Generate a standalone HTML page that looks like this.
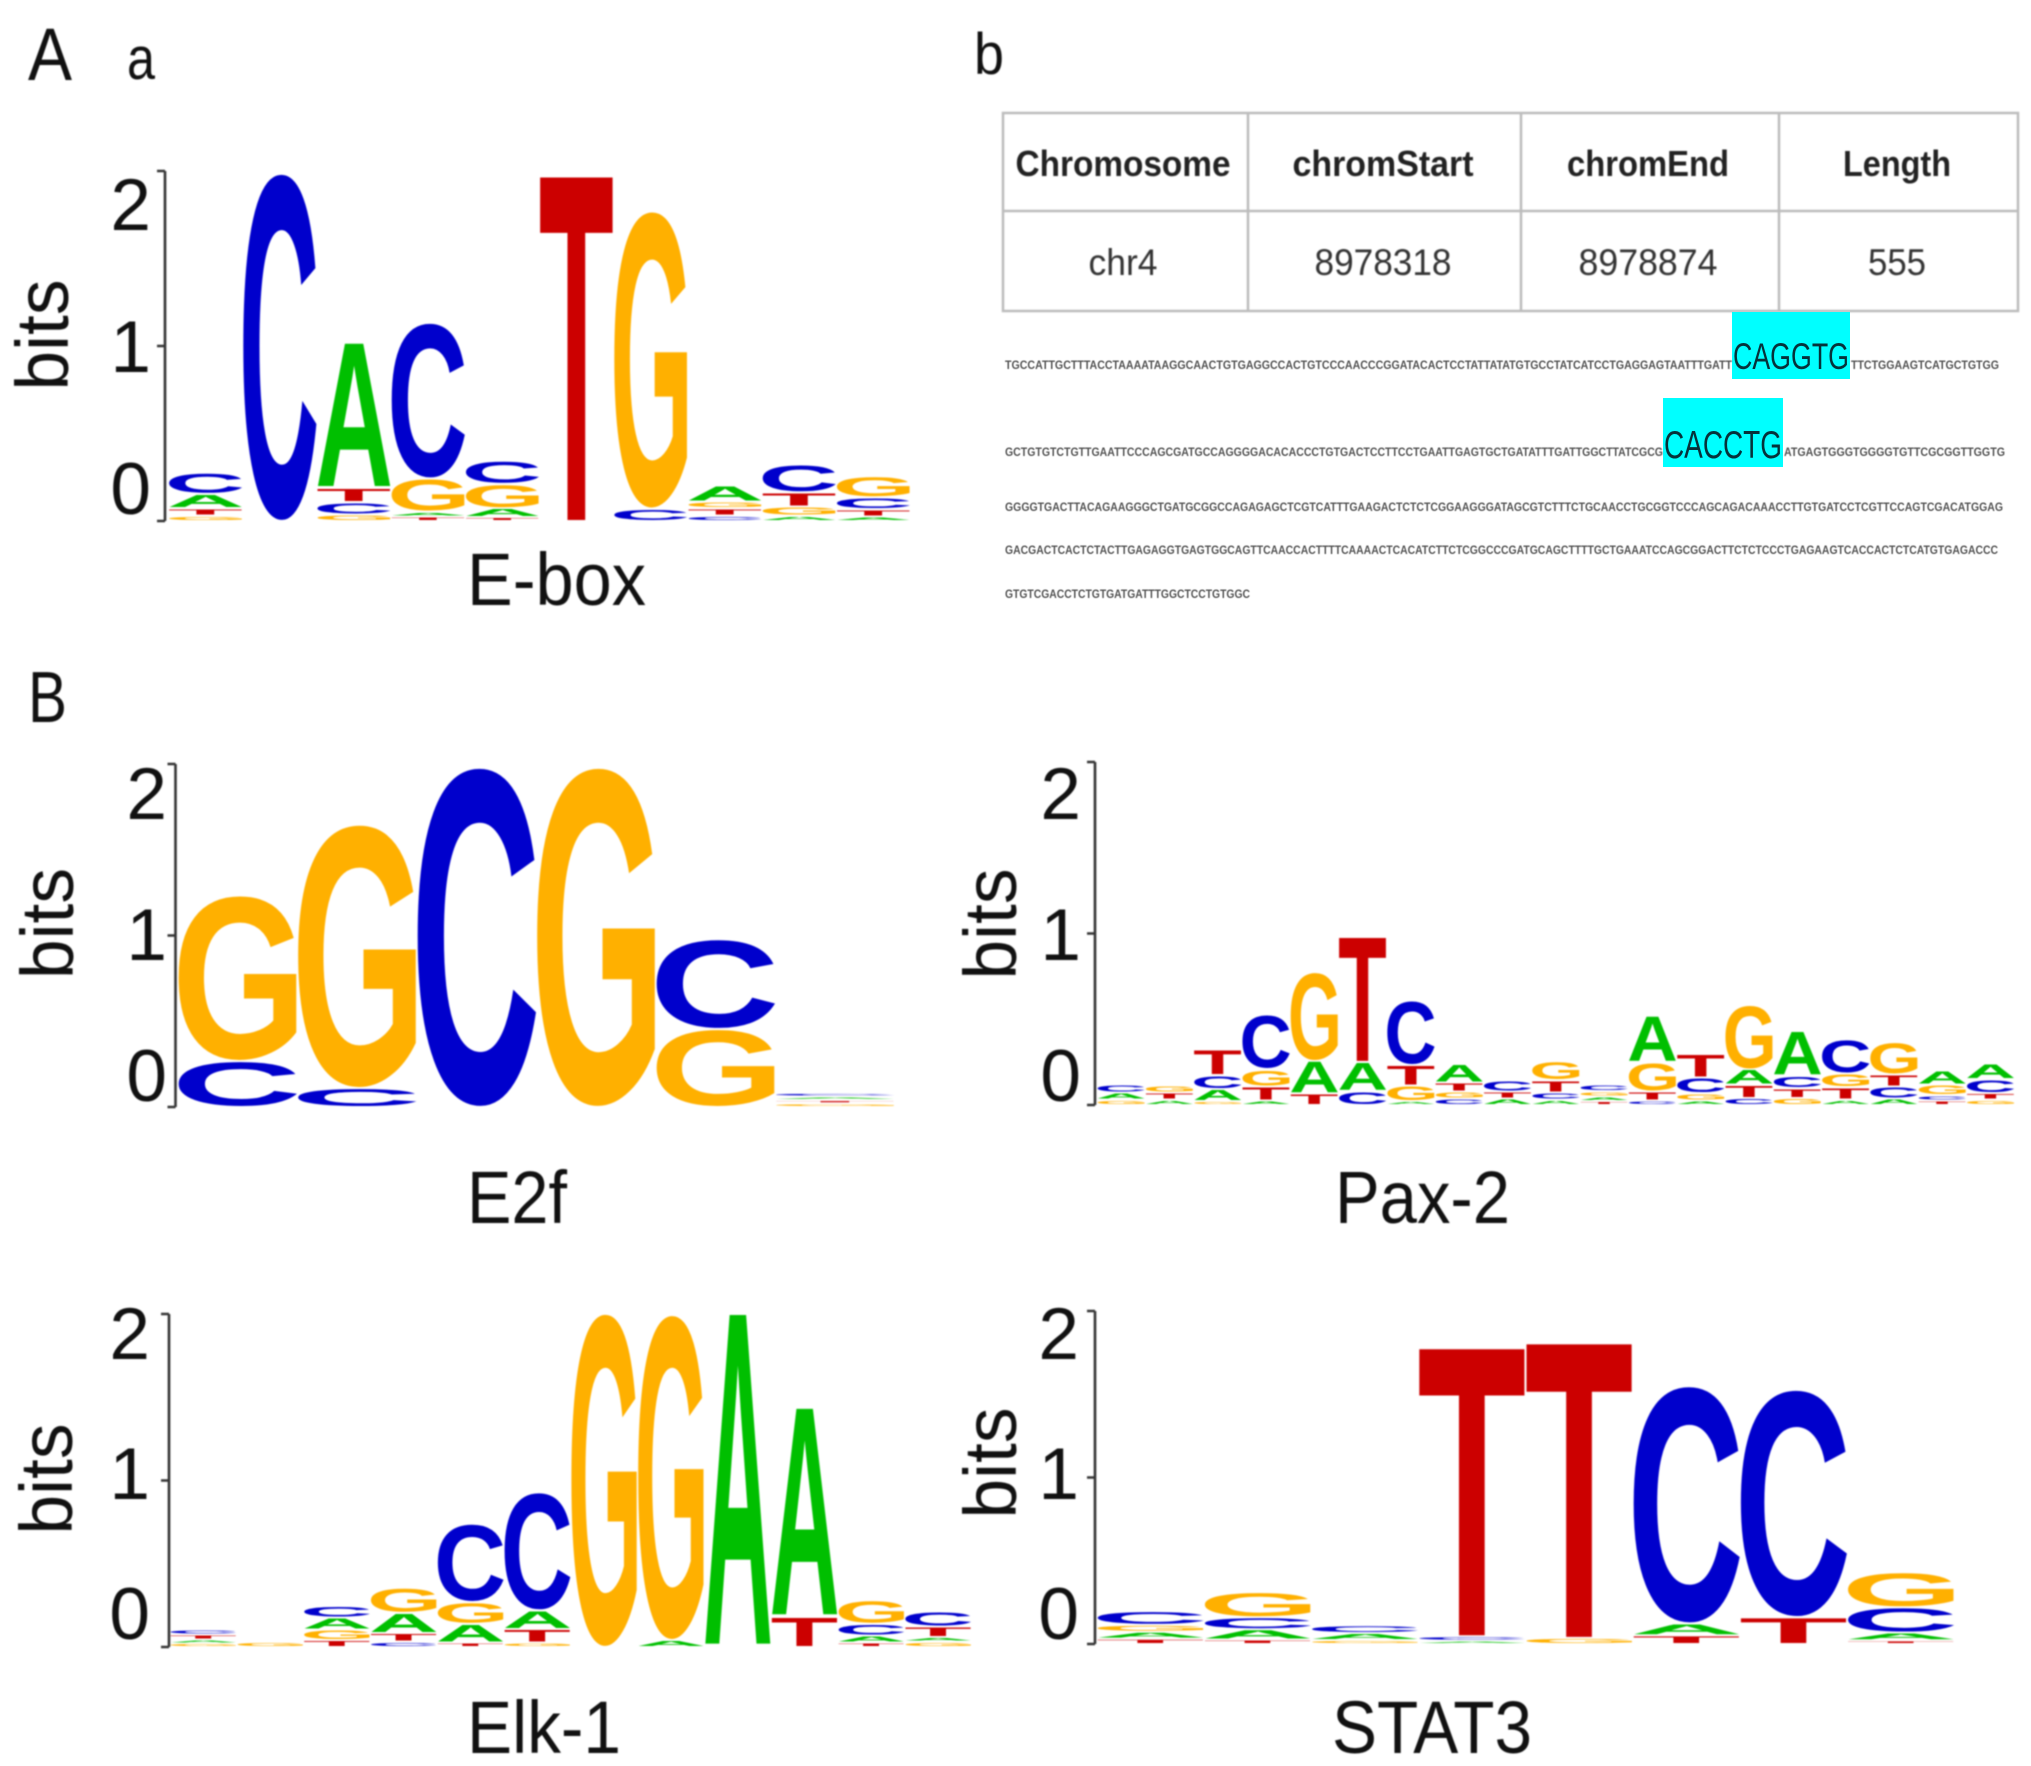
<!DOCTYPE html>
<html lang="en">
<head>
<meta charset="utf-8">
<title>Sequence logos</title>
<style>
html,body{margin:0;padding:0;background:#fff;}
svg{display:block;}
text{font-family:"Liberation Sans",sans-serif;fill:#111;}
.soft{filter:blur(.7px);}
.seq{font-size:12px;font-weight:bold;fill:#555;filter:blur(.5px);}
.motif{fill:#06323a;}
.th{font-size:36px;font-weight:bold;text-anchor:middle;fill:#222;}
.td{font-size:37px;text-anchor:middle;fill:#333;}
.lab{font-size:74px;}
.tick{font-size:73px;text-anchor:end;}
</style>
</head>
<body>
<svg id="fig" xmlns="http://www.w3.org/2000/svg" width="2031" height="1766" viewBox="0 0 2031 1766">
<rect width="2031" height="1766" fill="#fff"/>

<g id="labels" class="soft">
<text x="28" y="80" font-size="74" textLength="44" lengthAdjust="spacingAndGlyphs">A</text>
<text x="127" y="79" font-size="60" textLength="28" lengthAdjust="spacingAndGlyphs">a</text>
<text x="974" y="74" font-size="58" textLength="30" lengthAdjust="spacingAndGlyphs">b</text>
<text x="28" y="722" font-size="72" textLength="39" lengthAdjust="spacingAndGlyphs">B</text>
<text class="lab" x="467" y="605" textLength="179" lengthAdjust="spacingAndGlyphs">E-box</text>
<text class="lab" x="467" y="1223" textLength="100" lengthAdjust="spacingAndGlyphs">E2f</text>
<text class="lab" x="1335" y="1223" textLength="175" lengthAdjust="spacingAndGlyphs">Pax-2</text>
<text class="lab" x="467" y="1753" textLength="154" lengthAdjust="spacingAndGlyphs">Elk-1</text>
<text class="lab" x="1332" y="1753" textLength="200" lengthAdjust="spacingAndGlyphs">STAT3</text>
</g>

<g id="region-table" class="soft" fill="none" stroke="#bcbcbc" stroke-width="2.5">
<rect x="1003" y="113" width="1015" height="198"/>
<line x1="1003" y1="211" x2="2018" y2="211"/>
<line x1="1248" y1="113" x2="1248" y2="311"/>
<line x1="1521" y1="113" x2="1521" y2="311"/>
<line x1="1779" y1="113" x2="1779" y2="311"/>
</g>
<g class="soft">
<text class="th" x="1123" y="176" textLength="215" lengthAdjust="spacingAndGlyphs">Chromosome</text>
<text class="th" x="1383" y="176" textLength="181" lengthAdjust="spacingAndGlyphs">chromStart</text>
<text class="th" x="1648" y="176" textLength="162" lengthAdjust="spacingAndGlyphs">chromEnd</text>
<text class="th" x="1897" y="176" textLength="108" lengthAdjust="spacingAndGlyphs">Length</text>
<text class="td" x="1123" y="275" textLength="69" lengthAdjust="spacingAndGlyphs">chr4</text>
<text class="td" x="1383" y="275" textLength="137" lengthAdjust="spacingAndGlyphs">8978318</text>
<text class="td" x="1648" y="275" textLength="139" lengthAdjust="spacingAndGlyphs">8978874</text>
<text class="td" x="1897" y="275" textLength="58" lengthAdjust="spacingAndGlyphs">555</text>
</g>

<g id="sequence">
<rect x="1732" y="312" width="118" height="67" fill="#00ffff"/>
<rect x="1663" y="398" width="120" height="69" fill="#00ffff"/>
<text class="seq" x="1005" y="369" textLength="727" lengthAdjust="spacingAndGlyphs">TGCCATTGCTTTACCTAAAATAAGGCAACTGTGAGGCCACTGTCCCAACCCGGATACACTCCTATTATATGTGCCTATCATCCTGAGGAGTAATTTGATT</text>
<text class="motif" x="1733" y="369" font-size="37" textLength="116" lengthAdjust="spacingAndGlyphs">CAGGTG</text>
<text class="seq" x="1851" y="369" textLength="148" lengthAdjust="spacingAndGlyphs">TTCTGGAAGTCATGCTGTGG</text>
<text class="seq" x="1005" y="456" textLength="658" lengthAdjust="spacingAndGlyphs">GCTGTGTCTGTTGAATTCCCAGCGATGCCAGGGGACACACCCTGTGACTCCTTCCTGAATTGAGTGCTGATATTTGATTGGCTTATCGCG</text>
<text class="motif" x="1664" y="458" font-size="39" textLength="118" lengthAdjust="spacingAndGlyphs">CACCTG</text>
<text class="seq" x="1784" y="456" textLength="221" lengthAdjust="spacingAndGlyphs">ATGAGTGGGTGGGGTGTTCGCGGTTGGTG</text>
<text class="seq" x="1005" y="511" textLength="998" lengthAdjust="spacingAndGlyphs">GGGGTGACTTACAGAAGGGCTGATGCGGCCAGAGAGCTCGTCATTTGAAGACTCTCTCGGAAGGGATAGCGTCTTTCTGCAACCTGCGGTCCCAGCAGACAAACCTTGTGATCCTCGTTCCAGTCGACATGGAG</text>
<text class="seq" x="1005" y="554" textLength="993" lengthAdjust="spacingAndGlyphs">GACGACTCACTCTACTTGAGAGGTGAGTGGCAGTTCAACCACTTTTCAAAACTCACATCTTCTCGGCCCGATGCAGCTTTTGCTGAAATCCAGCGGACTTCTCTCCCTGAGAAGTCACCACTCTCATGTGAGACCC</text>
<text class="seq" x="1005" y="598" textLength="245" lengthAdjust="spacingAndGlyphs">GTGTCGACCTCTGTGATGATTTGGCTCCTGTGGC</text>
</g>

<g id="logos" class="soft"></g>
</svg>

<script>
// Logo data: each position lists its letters bottom to top as [base, bits].
const tickValues = [0, 1, 2];
const tickLabels = ['0', '1', '2'];

const eboxStacks = [
  [['G',.02],['T',.03],['A',.07],['C',.11]],
  [['C',2.0]],
  [['G',.025],['C',.06],['T',.07],['A',.83]],
  [['T',.015],['A',.015],['G',.18],['C',.89]],
  [['T',.01],['A',.04],['G',.13],['C',.12]],
  [['T',2.0]],
  [['C',.06],['G',1.71]],
  [['C',.02],['T',.03],['G',.025],['A',.08]],
  [['A',.02],['G',.04],['T',.07],['C',.15]],
  [['A',.015],['T',.03],['C',.055],['G',.11]]
];

const e2fStacks = [
  [['C',.26],['G',.97]],
  [['C',.1],['G',1.55]],
  [['C',2.0]],
  [['G',2.0]],
  [['G',.45],['C',.52]],
  [['G',.01],['T',.008],['A',.008],['C',.01]]
];

const pax2Stacks = [
  [['G',.02],['A',.03],['C',.035]],
  [['A',.02],['T',.03],['G',.03]],
  [['G',.01],['A',.06],['C',.07],['T',.14]],
  [['A',.015],['T',.07],['G',.09],['C',.31]],
  [['T',.055],['A',.18],['G',.51]],
  [['C',.07],['A',.16],['T',.73]],
  [['A',.01],['G',.08],['T',.11],['C',.37]],
  [['C',.025],['G',.03],['T',.04],['A',.1]],
  [['A',.025],['T',.03],['C',.055]],
  [['A',.02],['C',.03],['T',.06],['G',.1]],
  [['T',.01],['A',.015],['G',.02],['C',.025]],
  [['C',.015],['T',.04],['G',.16],['A',.26]],
  [['A',.015],['G',.03],['C',.08],['T',.13]],
  [['C',.03],['T',.065],['A',.08],['G',.37]],
  [['G',.03],['T',.045],['C',.06],['A',.25]],
  [['A',.02],['T',.06],['G',.07],['C',.19]],
  [['A',.025],['C',.06],['T',.06],['G',.18]],
  [['T',.015],['C',.02],['G',.05],['A',.07]],
  [['G',.02],['T',.025],['C',.07],['A',.08]]
];

const elk1Stacks = [
  [['G',.01],['A',.01],['T',.02],['C',.02]],
  [['G',.02]],
  [['T',.03],['G',.05],['A',.06],['C',.06]],
  [['C',.02],['T',.04],['A',.11],['G',.14]],
  [['T',.015],['A',.1],['G',.12],['C',.46]],
  [['G',.015],['T',.07],['A',.1],['C',.70]],
  [['G',2.0]],
  [['A',.03],['G',1.95]],
  [['A',2.0]],
  [['T',.17],['A',1.25]],
  [['T',.015],['A',.03],['C',.06],['G',.13]],
  [['G',.02],['A',.015],['T',.05],['C',.08]]
];

const stat3Stacks = [
  [['T',.02],['A',.03],['G',.03],['C',.07]],
  [['T',.015],['A',.05],['C',.06],['G',.14]],
  [['G',.012],['A',.03],['C',.035]],
  [['A',.008],['C',.015],['T',1.74]],
  [['G',.025],['T',1.78]],
  [['T',.04],['A',.06],['C',1.42]],
  [['T',.15],['C',1.36]],
  [['T',.01],['A',.035],['C',.14],['G',.2]]
];

const baseColors = { A: '#00bf00', C: '#0000cc', G: '#ffb000', T: '#cc0000' };
const letterGap = 0.012;

const svgNS = 'http://www.w3.org/2000/svg';
const root = document.getElementById('logos');
const measureCtx = document.createElement('canvas').getContext('2d');
measureCtx.font = 'bold 200px "Liberation Sans"';
const inkCache = {};

function ink(letter) {
  if (!inkCache[letter]) {
    const m = measureCtx.measureText(letter);
    inkCache[letter] = {
      left: -m.actualBoundingBoxLeft,
      right: m.actualBoundingBoxRight,
      asc: m.actualBoundingBoxAscent,
      desc: m.actualBoundingBoxDescent
    };
  }
  return inkCache[letter];
}

function drawLetter(parent, letter, x, yBottom, w, h) {
  const b = ink(letter);
  const sx = w / (b.right - b.left);
  const sy = h / (b.asc + b.desc);
  const t = document.createElementNS(svgNS, 'text');
  
  
  t.setAttribute('x', -b.left);
  t.setAttribute('y', -b.desc);
  t.setAttribute('font-size', 200);
  t.setAttribute('font-weight', 'bold');
  t.setAttribute('style', 'fill:' + baseColors[letter]);
  t.setAttribute('transform', 'translate(' + x + ' ' + yBottom + ') scale(' + sx + ' ' + sy + ')');
  t.textContent = letter;
  parent.appendChild(t);
}

function drawLogo(name, stacks, geom) {
  const yScale = function (v) { return geom.base - v * geom.bit; };
  const xScale = function (i) { return geom.x0 + i * geom.cell; };
  const axisScale = function (v) { return geom.axisBottom - v * (geom.axisBottom - geom.axisTop) / 2; };

  const g = document.createElementNS(svgNS, 'g');
  
  
  root.appendChild(g);

  // y axis bracket with tick marks
  const axis = document.createElementNS(svgNS, 'path');
  let d = 'M' + geom.axis + ' ' + axisScale(tickValues[0]) + 'V' + axisScale(tickValues[tickValues.length - 1]);
  tickValues.forEach(function (v) {
    d += 'M' + (geom.axis - 8) + ' ' + axisScale(v) + 'H' + geom.axis;
  });
  axis.setAttribute('d', d);
  axis.setAttribute('fill', 'none');
  axis.setAttribute('stroke', '#333');
  axis.setAttribute('stroke-width', '2.6');
  
  
  g.appendChild(axis);

  // tick labels: pulled toward the middle of the axis, as printed in the figure
  tickValues.forEach(function (v, i) {
    const t = document.createElementNS(svgNS, 'text');
    t.setAttribute('class', 'tick');
    t.setAttribute('x', geom.tickRight);
    t.setAttribute('y', axisScale(v) + (v - 1) * geom.tickSpread + geom.tickShift);
    
    
    t.textContent = tickLabels[i];
    g.appendChild(t);
  });

  // y axis title
  const title = document.createElementNS(svgNS, 'text');
  title.setAttribute('font-size', '74');
  title.setAttribute('text-anchor', 'middle');
  title.setAttribute('textLength', '111');
  title.setAttribute('lengthAdjust', 'spacingAndGlyphs');
  title.setAttribute('transform', 'translate(' + geom.titleX + ' ' + geom.titleY + ') rotate(-90)');
  
  
  title.textContent = 'bits';
  g.appendChild(title);

  // stacked letters
  stacks.forEach(function (stack, i) {
    let level = 0;
    stack.forEach(function (entry) {
      const top = level + entry[1];
      drawLetter(g, entry[0], xScale(i) + 0.5, yScale(level), geom.cell - 1, yScale(level) - yScale(top));
      level = top + letterGap;
    });
  });
}

drawLogo('ebox', eboxStacks, { axis: 165, axisTop: 171, axisBottom: 521, base: 520, bit: 173, x0: 168.5, cell: 74.2, tickRight: 151, tickSpread: 33, tickShift: 26, titleX: 68, titleY: 335 });
drawLogo('e2f', e2fStacks, { axis: 175.5, axisTop: 764, axisBottom: 1107, base: 1106, bit: 169, x0: 178, cell: 119.5, tickRight: 167, tickSpread: 30.5, tickShift: 24.5, titleX: 73, titleY: 923.5 });
drawLogo('pax2', pax2Stacks, { axis: 1095, axisTop: 762, axisBottom: 1105, base: 1104, bit: 170, x0: 1097, cell: 48.3, tickRight: 1081, tickSpread: 30.5, tickShift: 26.5, titleX: 1016, titleY: 924 });
drawLogo('elk1', elk1Stacks, { axis: 169, axisTop: 1314, axisBottom: 1647, base: 1646, bit: 166, x0: 170, cell: 66.8, tickRight: 150, tickSpread: 26.5, tickShift: 18.5, titleX: 72, titleY: 1479 });
drawLogo('stat3', stat3Stacks, { axis: 1095, axisTop: 1311, axisBottom: 1644, base: 1643, bit: 166, x0: 1097, cell: 107.2, tickRight: 1079, tickSpread: 26.5, tickShift: 21.5, titleX: 1016, titleY: 1463 });
</script>
</body>
</html>
